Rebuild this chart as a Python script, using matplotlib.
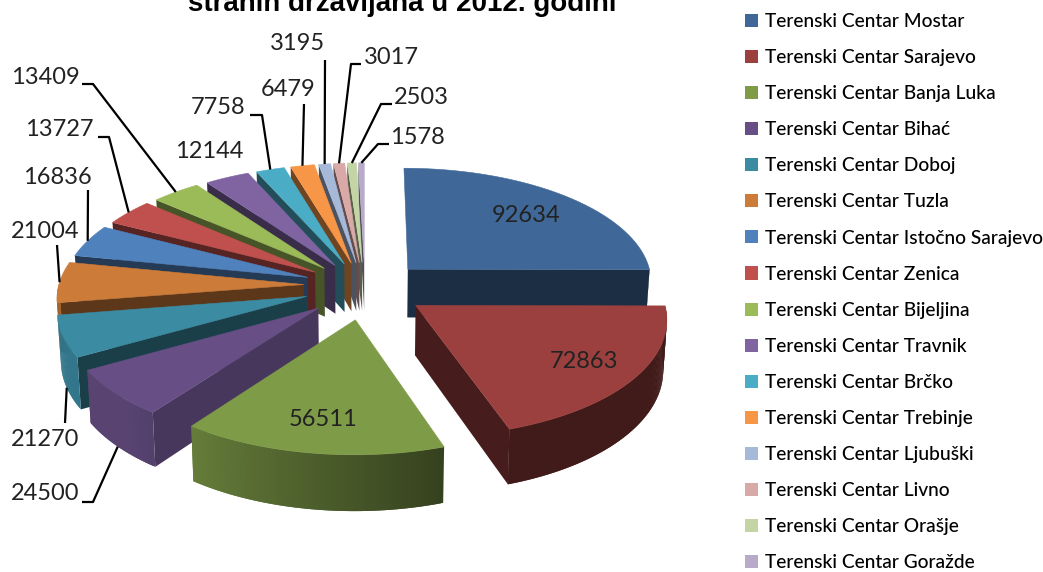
import numpy as np
import matplotlib
matplotlib.use('Agg')
import matplotlib.pyplot as plt
from matplotlib.patches import Patch, Polygon

centers = ['Mostar', 'Sarajevo', 'Banja Luka', 'Bihać', 'Doboj', 'Tuzla',
           'Istočno Sarajevo', 'Zenica', 'Bijeljina', 'Travnik', 'Brčko',
           'Trebinje', 'Ljubuški', 'Livno', 'Orašje', 'Goražde']
values = [92634, 72863, 56511, 24500, 21270, 21004, 16836, 13727,
          13409, 12144, 7758, 6479, 3195, 3017, 2503, 1578]
colors = ['#3f6797', '#9b403e', '#7e9b48', '#674f85', '#3b8ba3', '#cc7b38',
          '#4f81bd', '#c0504d', '#9bbb59', '#8064a2', '#4bacc6', '#f79646',
          '#a7b9d8', '#d9a9a8', '#c3d5a5', '#b7abc9']

# label centres in pixels
label_pos = [(526, 216), (584, 362), (323, 420), (45, 494), (45, 440),
             (45, 232), (57, 177), (59, 130), (45, 77), (209, 152),
             (218, 107), (288, 89), (297, 44), (391, 58), (421, 98), (417, 137)]

# leader lines: fixed part near the label, the end comes from the slice
leaders = {3: [(82, 502), (93, 502)], 4: [(65, 423)], 5: [(57, 245)],
           6: [(88, 190)], 7: [(98, 137), (109, 137)], 8: [(82, 84), (93, 84)],
           10: [(250, 115), (262, 115)], 11: [(304, 104)], 12: [(325, 60)],
           13: [(361, 64), (351, 64)], 14: [(392, 104), (381, 104)],
           15: [(389, 144), (378, 144)]}

CX, CY = 365, 285
SX, SY = 245, 114
K = 0.1
EXPLODE_U, EXPLODE_FRONT, EXPLODE_BACK = 0.25, 0.3, 0.2
HEIGHT = 49


def project(u, v, z=0.0):
    # perspective from the pie plane to pixels, z is distance below the top
    u, v = np.asarray(u, float), np.asarray(v, float)
    w = 1 - K * v
    shrink = 1 - 0.012 * z
    x = CX + SX * u / w * shrink
    y = CY + SY * v / w + z * HEIGHT / w
    return x, y


def direction(theta):
    return np.sin(np.radians(theta)), -np.cos(np.radians(theta))


def shade(hex_color, f):
    return tuple(np.array(matplotlib.colors.to_rgb(hex_color)) * f)


def quad(ax, xa, ya, xb, yb, color, z):
    pts = np.column_stack([[xa[0], xa[1], xb[1], xb[0]], [ya[0], ya[1], yb[1], yb[0]]])
    ax.add_patch(Polygon(pts, closed=True, fc=color, ec='none', zorder=z))


fig = plt.figure(figsize=(10.43, 5.72), dpi=100)
ax = fig.add_axes([0, 0, 1, 1])
ax.set_xlim(0, 1043)
ax.set_ylim(572, 0)
ax.axis('off')

total = sum(values)
edges = np.concatenate([[0], np.cumsum(values)]) / total * 360
mids = (edges[:-1] + edges[1:]) / 2
order = np.argsort([direction(m)[1] for m in mids])

for rank, i in enumerate(order):
    a0, a1 = edges[i], edges[i + 1]
    ou, ov = direction(mids[i])
    ou = ou * EXPLODE_U
    ov = ov * (EXPLODE_FRONT if ov > 0 else EXPLODE_BACK)
    z = rank * 2 + 2
    col = colors[i]

    # radial side faces
    for a, normal in ((a0, a0 - 90), (a1, a1 + 90)):
        if direction(normal)[1] <= 0:
            continue
        du, dv = direction(a)
        f = 0.7 if i == 3 else 0.45
        xa, ya = project([ou, ou + du], [ov, ov + dv])
        xb, yb = project([ou, ou + du], [ov, ov + dv], 1)
        quad(ax, xa, ya, xb, yb, shade(col, f), z)

    # outer wall in strips, each one overlaps the next so no seams show
    thetas = np.linspace(a0, a1, max(int(a1 - a0) * 2, 4))
    for j, t0 in enumerate(thetas[:-1]):
        t1 = thetas[min(j + 2, len(thetas) - 1)]
        tm = (t0 + thetas[j + 1]) / 2
        if direction(tm)[1] <= 0:
            continue
        f = np.clip(0.42 + (tm - 161) / 55 * 0.38, 0.42, 0.85)
        d = direction(np.array([t0, t1]))
        xa, ya = project(ou + d[0], ov + d[1])
        xb, yb = project(ou + d[0], ov + d[1], 1)
        quad(ax, xa, ya, xb, yb, shade(col, f), z)

    # top face
    d = direction(np.linspace(a0, a1, 60))
    x, y = project(np.r_[ou, ou + d[0]], np.r_[ov, ov + d[1]])
    ax.add_patch(Polygon(np.column_stack([x, y]), closed=True, fc=col, ec=col,
                         lw=0.4, zorder=z + 1))

    # data label and leader
    ax.text(label_pos[i][0], label_pos[i][1], str(values[i]), family='Lato',
            fontsize=17, color='#222222', ha='center', va='center', zorder=100)
    if i in leaders:
        d = direction(mids[i])
        ex, ey = project(ou + d[0], ov + d[1], 1 if d[1] > 0.05 else 0)
        pts = leaders[i] + [(float(ex), float(ey))]
        ax.plot([p[0] for p in pts], [p[1] for p in pts], color='black', lw=1.6,
                solid_capstyle='butt', zorder=99)

ax.text(402, 11, 'stranih državljana u 2012. godini', family='Liberation Sans',
        fontweight='bold', fontsize=20, color='black', ha='center',
        va='baseline', clip_on=False)

handles = [Patch(facecolor=c, edgecolor='none') for c in colors]
labels = ['Terenski Centar ' + c for c in centers]
ax.legend(handles, labels, loc='upper left', bbox_to_anchor=(745, 13),
          bbox_transform=ax.transData, frameon=False, borderpad=0, borderaxespad=0,
          handlelength=0.68, handleheight=0.68, handletextpad=0.37, labelspacing=1.0,
          prop={'family': 'Lato', 'size': 13.75, 'weight': 'medium'})

fig.savefig('out.png', dpi=100)
